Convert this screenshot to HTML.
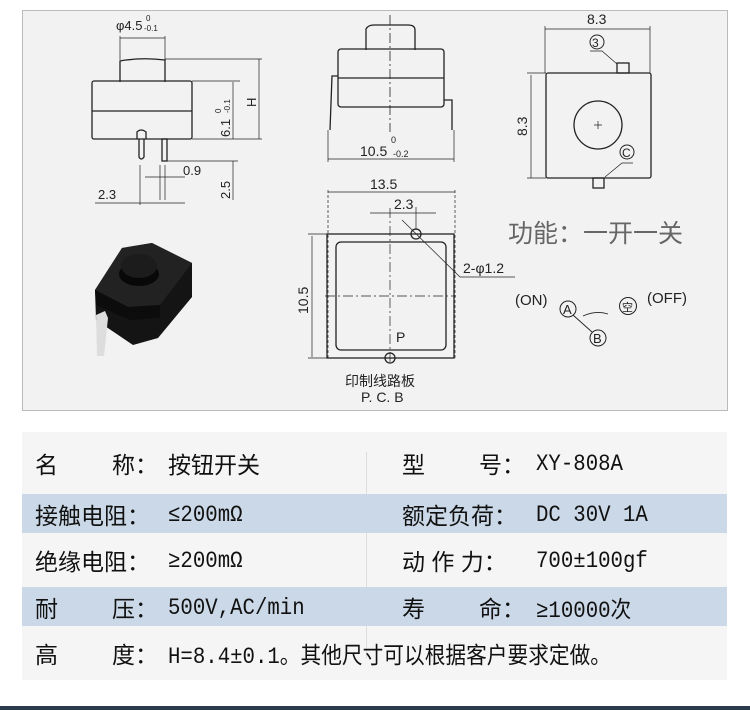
<!DOCTYPE html>
<html><head><meta charset="utf-8"><style>
body{margin:0;width:750px;height:710px;background:#fff;position:relative;overflow:hidden;font-family:"Liberation Sans","Noto Sans CJK SC",sans-serif}
.panel{position:absolute;left:22px;top:10px;width:704px;height:399px;border:1px solid #bbb;background:#f2f2f2}
svg{position:absolute;left:0;top:0}
.tbl{position:absolute;left:22px;top:432px;width:705px;height:248px;background:#f5f5f5}
.row{position:absolute;left:0;width:705px;font-size:23px;color:#111}
.row span{position:absolute;top:50%;transform:translateY(-50%);white-space:nowrap}
.blue{background:#cbd8e7}
.n{display:inline-block;transform:scaleX(.9);transform-origin:left center;font-style:normal;font-family:"Liberation Mono","Noto Sans CJK SC",monospace}
.div{position:absolute;left:344px;top:20px;width:1px;height:206px;background:#ddd}
.bot{position:absolute;left:0;top:706px;width:750px;height:4px;background:#2b3a4c}
</style></head><body>
<div class="panel"></div>
<svg width="750" height="420" viewBox="0 0 750 420" font-family="Liberation Sans, sans-serif" fill="none" stroke="#222" stroke-width="1.3">
<path d="M120 82 V61 Q142 57 165 60 V82"/>
<rect x="92" y="81" width="100" height="58" rx="2"/>
<line x1="92" y1="111" x2="192" y2="111"/>
<path d="M137 139 V132 Q141 128 146 132 V139 M139 139 V157 Q141 161 144 157 V139"/>
<rect x="162" y="139" width="5" height="22"/>
<g stroke-width="0.7">
<line x1="120" y1="38" x2="165" y2="38"/><line x1="120" y1="36" x2="120" y2="60"/><line x1="165" y1="36" x2="165" y2="60"/>
<line x1="165" y1="59" x2="262" y2="59"/><line x1="192" y1="81" x2="240" y2="81"/><line x1="192" y1="139" x2="262" y2="139"/><line x1="167" y1="161" x2="238" y2="161"/>
<line x1="259" y1="59" x2="259" y2="139"/><line x1="233" y1="82" x2="233" y2="139"/><line x1="233" y1="161" x2="233" y2="200"/>
<line x1="145" y1="177" x2="185" y2="177"/><line x1="160" y1="165" x2="160" y2="200"/><line x1="165" y1="165" x2="165" y2="200"/>
<line x1="140" y1="165" x2="140" y2="205"/>
<line x1="95" y1="203" x2="185" y2="203"/>
</g>
<g fill="#222" stroke="none" font-size="13">
<text x="116" y="30">φ4.5</text><text x="146" y="21" font-size="8">0</text><text x="144" y="31" font-size="8">-0.1</text>
<text x="183" y="175">0.9</text><text x="98" y="199">2.3</text>
<text transform="translate(230,137) rotate(-90)">6.1</text><text transform="translate(221,113) rotate(-90)" font-size="8">0</text><text transform="translate(230,113) rotate(-90)" font-size="8">-0.1</text>
<text transform="translate(256,107) rotate(-90)">H</text>
<text transform="translate(230,199) rotate(-90)">2.5</text>
</g>
<path d="M366 50 V29 Q368 25 374 25 H408 Q415 25 415 30 V50"/>
<rect x="338" y="49" width="106" height="58" rx="3"/>
<line x1="338" y1="78" x2="444" y2="78"/>
<path d="M338 76 H332 L330 130 M444 100 H452 V130"/>
<line x1="390" y1="15" x2="390" y2="132" stroke-dasharray="10,3,2,3" stroke-width="0.8"/>
<g stroke-width="0.7"><line x1="328" y1="159" x2="454" y2="159"/><line x1="328" y1="130" x2="328" y2="162"/><line x1="454" y1="130" x2="454" y2="162"/>
<line x1="328" y1="192" x2="455" y2="192"/><line x1="328" y1="190" x2="328" y2="360" stroke-dasharray="3,2"/><line x1="455" y1="190" x2="455" y2="360" stroke-dasharray="3,2"/></g>
<g fill="#222" stroke="none" font-size="14"><text x="360" y="156">10.5</text><text x="391" y="143" font-size="9">0</text><text x="393" y="157" font-size="9">-0.2</text><text x="370" y="189">13.5</text></g>
<rect x="546" y="73" width="105" height="105" rx="2"/>
<rect x="617" y="63" width="12" height="10"/><rect x="593" y="178" width="11" height="10"/>
<circle cx="598" cy="125" r="24"/><path d="M594 125 H602 M598 121 V129" stroke-width="0.7"/>
<circle cx="597" cy="42" r="7" stroke-width="1"/><path d="M590 51 H602 L617 64" stroke-width="0.7"/>
<circle cx="627" cy="152" r="7" stroke-width="1"/><path d="M633 163 H622 L605 177" stroke-width="0.7"/>
<g stroke-width="0.7"><line x1="545" y1="29" x2="650" y2="29"/><line x1="545" y1="26" x2="545" y2="73"/><line x1="650" y1="26" x2="650" y2="73"/>
<line x1="531" y1="75" x2="531" y2="178"/><line x1="527" y1="73" x2="546" y2="73"/><line x1="527" y1="178" x2="546" y2="178"/></g>
<g fill="#222" stroke="none" font-size="14"><text x="587" y="24">8.3</text><text transform="translate(527,136) rotate(-90)">8.3</text>
<text x="592" y="47" font-size="12">3</text><text x="622" y="157" font-size="12">C</text></g>
<rect x="327" y="234" width="127" height="124"/>
<rect x="336" y="242" width="110" height="108" rx="5"/>
<circle cx="416" cy="234" r="5"/><circle cx="390" cy="358" r="5"/>
<g stroke-width="0.7">
<line x1="370" y1="213" x2="436" y2="213"/><line x1="416" y1="207" x2="416" y2="230"/>
<path d="M402 220 L460 277 H515"/>
<line x1="312" y1="236" x2="312" y2="357"/><line x1="308" y1="234" x2="327" y2="234"/><line x1="308" y1="358" x2="327" y2="358"/>
<line x1="390" y1="208" x2="390" y2="362" stroke-dasharray="10,3,2,3"/>
<line x1="325" y1="296" x2="456" y2="296" stroke-dasharray="10,3,2,3"/>
</g>
<g fill="#222" stroke="none" font-size="14">
<text x="394" y="209">2.3</text><text x="463" y="273">2-φ1.2</text>
<text transform="translate(308,314) rotate(-90)">10.5</text>
<text x="396" y="342">P</text>
<text x="345" y="386" font-family="Noto Sans CJK SC, sans-serif" font-size="14">印制线路板</text>
<text x="361" y="402">P. C. B</text>
</g>
<text x="508" y="242" fill="#666" stroke="none" font-size="25" font-family="Noto Sans CJK SC, sans-serif">功能：一开一关</text>
<g fill="#222" stroke="none" font-size="15"><text x="515" y="305">(ON)</text><text x="647" y="303">(OFF)</text>
<text x="563" y="314" font-size="13">A</text><text x="593" y="343" font-size="13">B</text><text x="622" y="311" font-size="11" font-family="Noto Sans CJK SC, sans-serif">空</text></g>
<circle cx="568" cy="309" r="8" stroke-width="1"/><circle cx="598" cy="338" r="8" stroke-width="1"/><circle cx="628" cy="306" r="8.5" stroke-width="1"/>
<line x1="573" y1="315" x2="592" y2="332" stroke-width="0.9"/>
<path d="M583 316 Q596 310 608 314" stroke-width="0.9"/>
<g stroke="none">
<polygon points="95,290 122,248 152,243 192,263 192,297 158,338 133,345 96,320" fill="#141414"/>
<polygon points="95,290 122,248 152,243 192,263 160,305 128,307" fill="#222"/>
<polygon points="95,290 128,307 160,305 160,318 130,320 96,305" fill="#0c0c0c"/>
<ellipse cx="139" cy="274" rx="20" ry="12" fill="#080808"/>
<ellipse cx="139" cy="266" rx="18" ry="12" fill="#1c1c1c"/>
<polygon points="96,315 105,311 108,318 104,356 97,356" fill="#ddd"/>
</g>
</svg>
<div class="tbl">
<div class="div"></div>
<div class="row" style="top:0;height:62px"><span style="left:13px">名</span><span style="left:90px">称：</span><span style="left:146px">按钮开关</span><span style="left:380px">型</span><span style="left:457px">号：</span><span style="left:514px"><i class="n">XY-808A</i></span></div>
<div class="row blue" style="top:62px;height:39px"><span style="left:13px">接触电阻：</span><span style="left:146px"><i class="n">≤200mΩ</i></span><span style="left:380px">额定负荷：</span><span style="left:514px"><i class="n">DC 30V 1A</i></span></div>
<div class="row" style="top:101px;height:54px"><span style="left:13px">绝缘电阻：</span><span style="left:146px"><i class="n">≥200mΩ</i></span><span style="left:380px">动 作 力：</span><span style="left:514px"><i class="n">700±100gf</i></span></div>
<div class="row blue" style="top:155px;height:39px"><span style="left:13px">耐</span><span style="left:90px">压：</span><span style="left:146px"><i class="n">500V,AC/min</i></span><span style="left:380px">寿</span><span style="left:457px">命：</span><span style="left:514px"><i class="n">≥10000次</i></span></div>
<div class="row" style="top:194px;height:54px"><span style="left:13px">高</span><span style="left:90px">度：</span><span style="left:146px"><i class="n">H=8.4±0.1。其他尺寸可以根据客户要求定做。</i></span></div>
</div>
<div class="bot"></div>
</body></html>
